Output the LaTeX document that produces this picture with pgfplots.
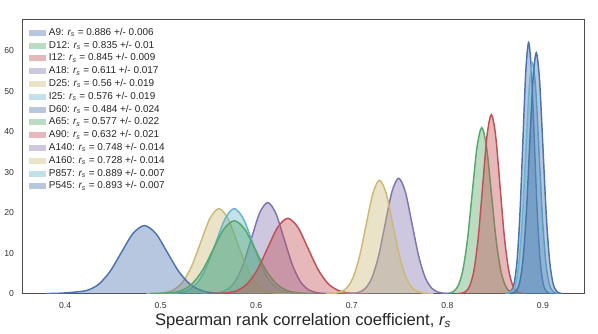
\documentclass[border=0pt]{standalone}
\usepackage{fontspec}
\setmainfont{Liberation Sans}
\usepackage{pgfplots}
\pgfplotsset{compat=1.18}

\definecolor{sbblue}{HTML}{4C72B0}
\definecolor{sbgreen}{HTML}{55A868}
\definecolor{sbred}{HTML}{C44E52}
\definecolor{sbpurple}{HTML}{8172B2}
\definecolor{sbyellow}{HTML}{CCB974}
\definecolor{sbcyan}{HTML}{64B5CD}

\newcommand{\rs}{\textit{r\textsubscript{s}}}
% histogram-like fill plus KDE line for one run
\newcommand{\dens}[2]{%
  \addplot[draw=none, fill=#1, fill opacity=0.4, smooth, forget plot]
    coordinates {#2} \closedcycle;
  \addplot[#1, line width=1.1pt, smooth, forget plot] coordinates {#2};
}
\newcommand{\leg}[2]{%
  \addlegendimage{draw=none, fill=#1, fill opacity=0.4}
  \addlegendentry{#2}
}

\begin{document}
\begin{tikzpicture}
  \begin{axis}[
      scale only axis,
      width=423pt, height=206pt,
      xmin=0.355, xmax=0.943,
      ymin=0, ymax=67.6,
      xtick={0.4,0.5,0.6,0.7,0.8,0.9},
      ytick={0,10,20,30,40,50,60},
      major tick length=0pt,
      axis line style={draw=black!70, line width=0.65pt},
      /pgf/number format/assume math mode=true,
      xticklabel style={/pgf/number format/fixed, /pgf/number format/precision=1,
                        /pgf/number format/fixed zerofill, font=\fontsize{6.5}{7}\selectfont,
                        text=black!80},
      yticklabel style={font=\fontsize{6.5}{7}\selectfont, text=black!80},
      xticklabel shift=3pt,
      yticklabel shift=2.5pt,
      xlabel={Spearman rank correlation coefficient, \rs},
      xlabel style={font=\fontsize{12.5}{14}\selectfont, text=black!85, yshift=3pt},
      legend style={at={(0.0,1.0)}, anchor=north west, draw=none, fill=none,
                    font=\fontsize{7.5}{8}\selectfont, text=black!85,
                    row sep=-1.3pt, cells={anchor=west},
                    xshift=2pt, yshift=-2pt},
      legend image code/.code={\fill[#1] (0pt,-2.3pt) rectangle (13pt,2.3pt);},
    ]
    \leg{sbblue}{A9: \rs\ = 0.886 +/- 0.006}
    \leg{sbgreen}{D12: \rs\ = 0.835 +/- 0.01}
    \leg{sbred}{I12: \rs\ = 0.845 +/- 0.009}
    \leg{sbpurple}{A18: \rs\ = 0.611 +/- 0.017}
    \leg{sbyellow}{D25: \rs\ = 0.56 +/- 0.019}
    \leg{sbcyan}{I25: \rs\ = 0.576 +/- 0.019}
    \leg{sbblue}{D60: \rs\ = 0.484 +/- 0.024}
    \leg{sbgreen}{A65: \rs\ = 0.577 +/- 0.022}
    \leg{sbred}{A90: \rs\ = 0.632 +/- 0.021}
    \leg{sbpurple}{A140: \rs\ = 0.748 +/- 0.014}
    \leg{sbyellow}{A160: \rs\ = 0.728 +/- 0.014}
    \leg{sbcyan}{P857: \rs\ = 0.889 +/- 0.007}
    \leg{sbblue}{P545: \rs\ = 0.893 +/- 0.007}

    % A9
    \dens{sbblue}{(0.861,0) (0.864,0.14) (0.867,0.69) (0.870,2.72) (0.873,8.39)
      (0.876,20.13) (0.879,37.60) (0.882,54.72) (0.885,62) (0.888,54.72)
      (0.891,37.60) (0.894,20.13) (0.897,8.39) (0.900,2.72) (0.903,0.69)
      (0.906,0.14) (0.909,0)}
    % D12
    \dens{sbgreen}{(0.796,0) (0.801,0.09) (0.806,0.46) (0.811,1.80) (0.816,5.55)
      (0.821,13.31) (0.826,24.87) (0.831,36.18) (0.836,41) (0.841,36.18)
      (0.846,24.87) (0.851,13.31) (0.856,5.55) (0.861,1.80) (0.866,0.46)
      (0.871,0.09) (0.876,0)}
    % I12
    \dens{sbred}{(0.810,0) (0.8145,0.10) (0.819,0.49) (0.8235,1.94) (0.828,5.98)
      (0.8325,14.35) (0.837,26.81) (0.8415,39.01) (0.846,44.2) (0.8505,39.01)
      (0.855,26.81) (0.8595,14.35) (0.864,5.98) (0.8685,1.94) (0.873,0.49)
      (0.8775,0.10) (0.882,0)}
    % A18
    \dens{sbpurple}{(0.544,0) (0.5525,0.05) (0.561,0.25) (0.5695,0.99) (0.578,3.04)
      (0.5865,7.31) (0.595,13.65) (0.6035,19.86) (0.612,22.5) (0.6205,19.86)
      (0.629,13.65) (0.6375,7.31) (0.646,3.04) (0.6545,0.99) (0.663,0.25)
      (0.6715,0.05) (0.680,0)}
    % D25
    \dens{sbyellow}{(0.485,0) (0.4945,0.05) (0.504,0.23) (0.5135,0.92) (0.523,2.84)
      (0.5325,6.82) (0.542,12.74) (0.5515,18.53) (0.561,21) (0.5705,18.53)
      (0.580,12.74) (0.5895,6.82) (0.599,2.84) (0.6085,0.92) (0.618,0.23)
      (0.6275,0.05) (0.637,0)}
    % I25
    \dens{sbcyan}{(0.501,0) (0.5105,0.05) (0.520,0.23) (0.5295,0.92) (0.539,2.84)
      (0.5485,6.82) (0.558,12.74) (0.5675,18.53) (0.577,21) (0.5865,18.53)
      (0.596,12.74) (0.6055,6.82) (0.615,2.84) (0.6245,0.92) (0.634,0.23)
      (0.6435,0.05) (0.653,0)}
    % D60
    \dens{sbblue}{(0.380,0) (0.387,0.05) (0.399,0.15) (0.411,0.40) (0.423,0.80)
      (0.435,2.27) (0.447,5.45) (0.459,10.19) (0.471,14.83) (0.483,16.8)
      (0.495,14.83) (0.507,10.19) (0.519,5.45) (0.531,2.27) (0.543,0.74)
      (0.555,0.19) (0.567,0.04) (0.579,0)}
    % A65
    \dens{sbgreen}{(0.489,0) (0.500,0.04) (0.511,0.20) (0.522,0.79) (0.533,2.44)
      (0.544,5.84) (0.555,10.92) (0.566,15.89) (0.577,18) (0.588,15.89)
      (0.599,10.92) (0.610,5.84) (0.621,2.44) (0.632,0.79) (0.643,0.20)
      (0.654,0.04) (0.665,0)}
    % A90
    \dens{sbred}{(0.549,0) (0.5595,0.04) (0.570,0.21) (0.5805,0.82) (0.591,2.52)
      (0.6015,6.04) (0.612,11.28) (0.6225,16.41) (0.633,18.6) (0.6435,16.41)
      (0.654,11.28) (0.6645,6.04) (0.675,2.52) (0.6855,0.82) (0.696,0.21)
      (0.7065,0.04) (0.717,0)}
    % A140
    \dens{sbpurple}{(0.693,0) (0.700,0.06) (0.707,0.32) (0.714,1.25) (0.721,3.86)
      (0.728,9.25) (0.735,17.29) (0.742,25.15) (0.749,28.5) (0.756,25.15)
      (0.763,17.29) (0.770,9.25) (0.777,3.86) (0.784,1.25) (0.791,0.32)
      (0.798,0.06) (0.805,0)}
    % A160
    \dens{sbyellow}{(0.673,0) (0.680,0.06) (0.687,0.31) (0.694,1.23) (0.701,3.79)
      (0.708,9.09) (0.715,16.98) (0.722,24.71) (0.729,28) (0.736,24.71)
      (0.743,16.98) (0.750,9.09) (0.757,3.79) (0.764,1.23) (0.771,0.31)
      (0.778,0.06) (0.785,0)}
    % P857
    \dens{sbcyan}{(0.861,0) (0.8645,0.13) (0.868,0.63) (0.8715,2.50) (0.875,7.71)
      (0.8785,18.51) (0.882,34.57) (0.8855,50.30) (0.889,57) (0.8925,50.30)
      (0.896,34.57) (0.8995,18.51) (0.903,7.71) (0.9065,2.50) (0.910,0.63)
      (0.9135,0.13) (0.917,0)}
    % P545
    \dens{sbblue}{(0.865,0) (0.8685,0.13) (0.872,0.66) (0.8755,2.61) (0.879,8.05)
      (0.8825,19.32) (0.886,36.09) (0.8895,52.51) (0.893,59.5) (0.8965,52.51)
      (0.900,36.09) (0.9035,19.32) (0.907,8.05) (0.9105,2.61) (0.914,0.66)
      (0.9175,0.13) (0.921,0)}
  \end{axis}
  \path (current axis.south west) ++(-15pt,-30pt) coordinate (bl);
  \path (current axis.north east) ++(10.5pt,15pt) coordinate (tr);
  \useasboundingbox (bl) rectangle (tr);
\end{tikzpicture}
\end{document}
